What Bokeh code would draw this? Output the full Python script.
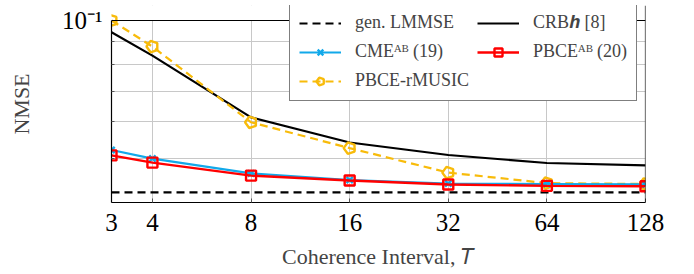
from bokeh.plotting import figure
from bokeh.models import FixedTicker, Legend, LegendItem, Range1d, ColumnDataSource, Span, BoxAnnotation
from bokeh.embed import file_html
from bokeh.resources import INLINE
import math

T = [3, 4, 8, 16, 32, 64, 128]
gen_lmmse = [0.0421, 0.0421, 0.0421, 0.0421, 0.0421, 0.0421, 0.0421]
crb_h = [0.0943, 0.0838, 0.0614, 0.0541, 0.0508, 0.0488, 0.0482]
cme_ab = [0.0521, 0.0499, 0.0463, 0.0448, 0.0440, 0.0439, 0.0438]
pbce_ab = [0.0507, 0.0489, 0.0458, 0.0447, 0.0438, 0.0435, 0.0434]
pbce_rmusic = [0.1000, 0.0877, 0.0599, 0.0526, 0.0465, 0.0441, 0.0439]

x_ticks = [3, 4, 8, 16, 32, 64, 128]
x_tick_labels = ["3", "4", "8", "16", "32", "64", "128"]
y_ticks = [0.1]
y_tick_labels = ["10\u207b\u00b9"]
y_minor = [0.05, 0.06, 0.07, 0.08, 0.09]
x_min, x_max = 3, 128
y_min, y_max = 0.04, 0.1

FONT = "Liberation Serif"
BLUE = "#12a9ea"
RED = "#ff0000"
GOLD = "#f8bb0a"

# axes box is 182 px tall; 15 px of head room above it hold the top of the legend
AX_H, HEAD = 182, 15
y_top = y_max * (y_max / y_min) ** (HEAD / AX_H)

p = figure(x_axis_type="log", y_axis_type="log",
           x_range=Range1d(x_min, x_max), y_range=Range1d(y_min, y_top),
           frame_width=534, frame_height=AX_H + HEAD,
           min_border_left=111, min_border_right=47,
           min_border_top=5, min_border_bottom=72,
           output_backend="svg", toolbar_location=None)

p.outline_line_color = None

p.xaxis.ticker = FixedTicker(ticks=x_ticks, minor_ticks=[])
p.xaxis.major_label_overrides = {t: l for t, l in zip(x_ticks, x_tick_labels)}
p.yaxis.ticker = FixedTicker(ticks=y_ticks, minor_ticks=y_minor)
p.yaxis.major_label_overrides = {t: l for t, l in zip(y_ticks, y_tick_labels)}
p.yaxis.bounds = (y_min, y_max)

for ax in (p.xaxis[0], p.yaxis[0]):
    ax.major_label_text_font = FONT
    ax.major_label_text_font_size = "25px"
    ax.major_label_text_color = "black"
    ax.axis_label_text_font = FONT
    ax.axis_label_text_font_size = "22px"
    ax.axis_label_text_font_style = "normal"
    ax.axis_line_color = "black"
    ax.axis_line_width = 1.2
    ax.major_tick_out = 0
    ax.major_tick_in = 4
    ax.minor_tick_out = 0
    ax.minor_tick_in = 3
    ax.major_tick_line_color = "#555555"
    ax.minor_tick_line_color = "#555555"

p.xaxis.axis_label = "Coherence Interval, \U0001D447"
p.yaxis.axis_label = "NMSE"
p.xaxis.major_label_standoff = 11
p.xaxis.axis_label_standoff = 10
p.yaxis.major_label_standoff = 9
p.yaxis.axis_label_standoff = 25

p.xgrid.ticker = FixedTicker(ticks=x_ticks)
p.xgrid.grid_line_color = "#c8c8c8"
p.ygrid.ticker = FixedTicker(ticks=y_ticks, minor_ticks=y_minor)
p.ygrid.grid_line_color = "#c8c8c8"
p.ygrid.minor_grid_line_color = "#c8c8c8"

# blank the head room above the axes box
head = BoxAnnotation(bottom=y_max, fill_color="white", fill_alpha=1, line_color=None, level="underlay")
p.add_layout(head)
p.add_layout(Span(location=y_max, dimension="width", line_color="black", line_width=1.2))
p.add_layout(Span(location=x_max, dimension="height", line_color="black", line_width=1.2))

src = ColumnDataSource(dict(T=T, lmmse=gen_lmmse, crb=crb_h, cme=cme_ab, pbce=pbce_ab, rm=pbce_rmusic))

r_lmmse = p.line("T", "lmmse", source=src, line_color="black", line_width=2.2, line_dash="8 5")
r_crb = p.line("T", "crb", source=src, line_color="black", line_width=2.2)
r_rm_l = p.line("T", "rm", source=src, line_color=GOLD, line_width=2.2, line_dash="8 5")
try:
    r_rm_m = p.ngon("T", "rm", source=src, radius=6, radius_units="screen", n=5,
                    angle=math.pi / 2, fill_color=None, line_color=GOLD, line_width=2.4)
except Exception:
    r_rm_m = p.scatter("T", "rm", source=src, marker="hex", size=11,
                       fill_color=None, line_color=GOLD, line_width=2.4)
r_cme_l = p.line("T", "cme", source=src, line_color=BLUE, line_width=2.2)
r_cme_m = p.scatter("T", "cme", source=src, marker="x", size=9, line_color=BLUE, line_width=2.4)
r_pb_l = p.line("T", "pbce", source=src, line_color=RED, line_width=2.4)
r_pb_m = p.scatter("T", "pbce", source=src, marker="square", size=10,
                   fill_color=None, line_color=RED, line_width=2.4)

items = [
    LegendItem(label="gen. LMMSE", renderers=[r_lmmse]),
    LegendItem(label="CME\u1d2c\u1d2e (19)", renderers=[r_cme_l, r_cme_m]),
    LegendItem(label="PBCE-rMUSIC", renderers=[r_rm_l, r_rm_m]),
    LegendItem(label="CRB\U0001D489 [8]", renderers=[r_crb]),
    LegendItem(label="PBCE\u1d2c\u1d2e (20)", renderers=[r_pb_l, r_pb_m]),
]
legend = Legend(items=items, location=(178, 101), ncols=2)
legend.label_text_font = FONT
legend.label_text_font_size = "18px"
legend.glyph_width = 42
legend.glyph_height = 20
legend.label_standoff = 14
legend.spacing = 8
legend.padding = 9
legend.margin = 0
legend.border_line_color = "black"
legend.border_line_width = 1
legend.background_fill_alpha = 1
p.add_layout(legend)

open("out.html", "w").write(file_html(p, INLINE))
